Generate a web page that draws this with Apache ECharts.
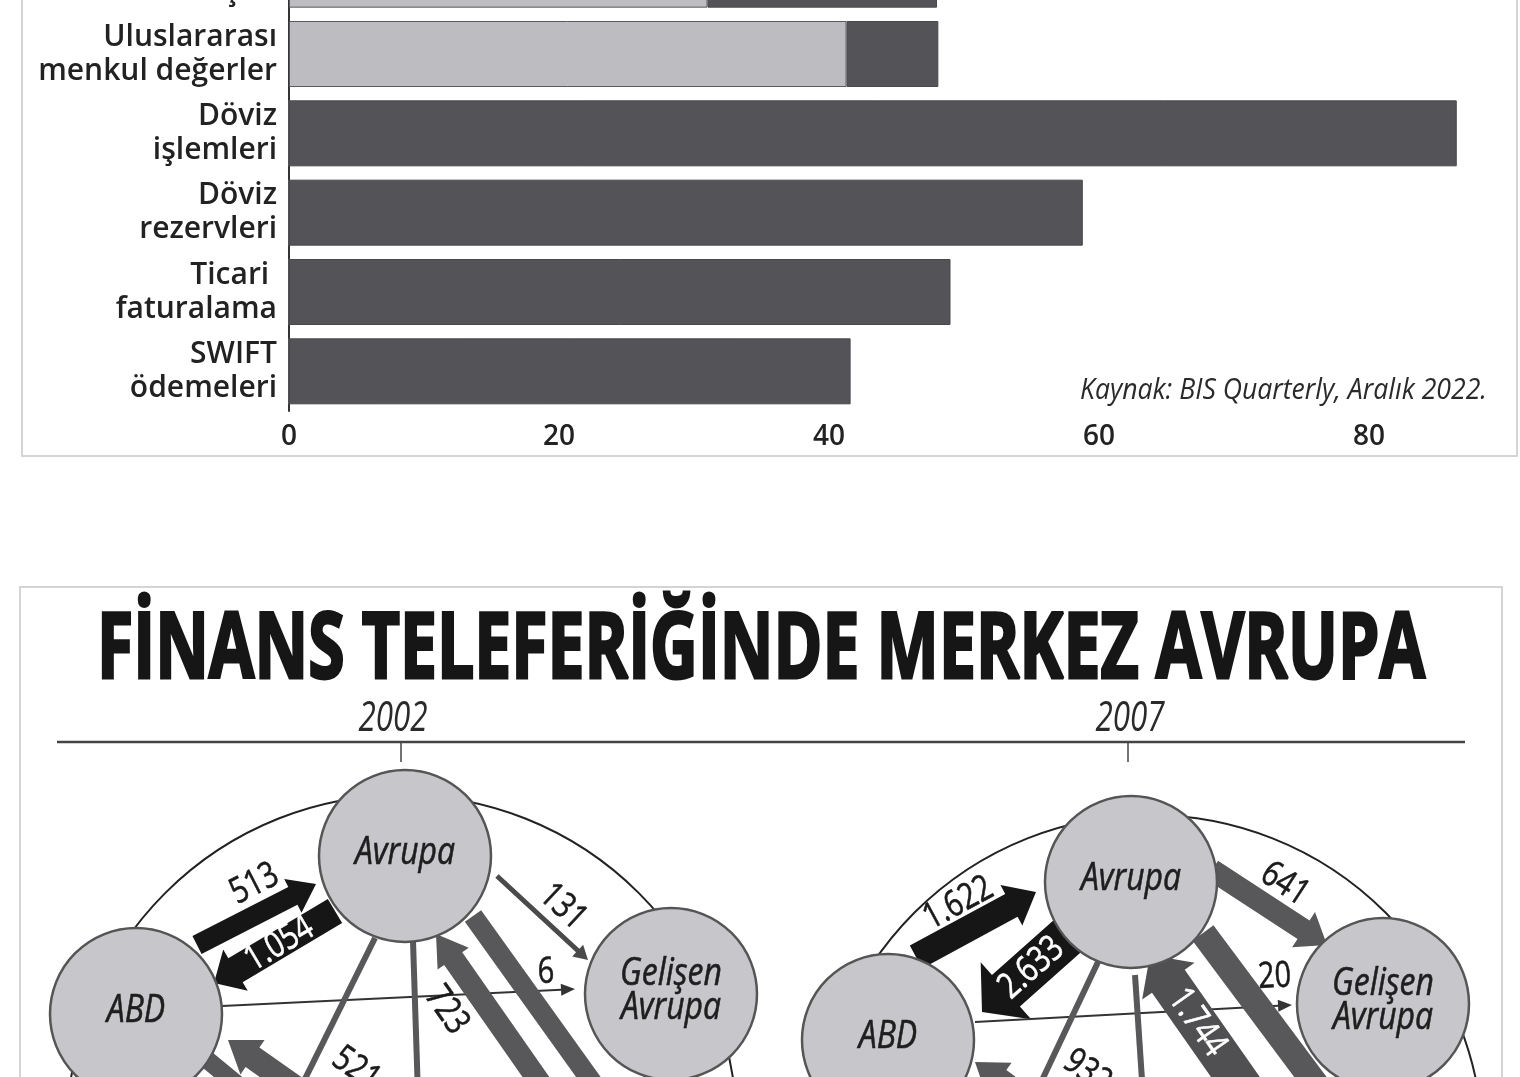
<!DOCTYPE html>
<html>
<head>
<meta charset="utf-8">
<script src="https://cdn.jsdelivr.net/npm/echarts@6/dist/echarts.min.js"></script>
<style>
  html, body { margin: 0; padding: 0; background: #fff; overflow: hidden; }
  #page { position: relative; width: 1520px; height: 1077px; overflow: hidden; }
  #bars { position: absolute; left: 0; top: -65px; width: 1520px; height: 522px; }
  #net { position: absolute; left: 0; top: 0; width: 1520px; height: 1077px; }
</style>
</head>
<body>
<div id="page"><div id="bars"></div><div id="net"></div></div>
<script>
// --- bar chart data (share of USD, %) ---
const categories = ['Uluslararası\nödünçler', 'Uluslararası\nmenkul değerler', 'Döviz\nişlemleri', 'Döviz\nrezervleri', 'Ticari \nfaturalama', 'SWIFT\nödemeleri'];
const lightValues = [31.0, 41.3, 0, 0, 0, 0];
const darkValues = [17.0, 6.8, 86.5, 58.8, 49.0, 41.6];
const sourceText = 'Kaynak: BIS Quarterly, Aralık 2022.';

// --- network data (flows) ---
const title = 'FİNANS TELEFERİĞİNDE MERKEZ AVRUPA';
const years = ['2002', '2007'];
const nodeNames = ['Avrupa', 'ABD', 'Gelişen\nAvrupa'];
const flows2002 = [513, 1054, 131, 6, 723, 521];
const flows2007 = [1622, 2633, 641, 20, 1744, 932];

// --- layout of the diagrams (diagram units) ---
const nodePos2002 = [[405, 856], [136, 1014], [671, 994]];
const nodePos2007 = [[1131, 882], [888, 1040], [1383, 1004]];
const ringPos = [[402, 1130, 335], [1150, 1148, 333]];
const NodeR = 86;

// tail x, tail y, tip x, tip y
const arrowPath2002 = [[197, 945, 316, 884], [335, 911, 214, 983], [497, 876, 588, 960], [222, 1006, 575, 989], [545, 1090, 436, 934], [370, 1140, 228, 1040]];
const arrowPath2007 = [[916, 957, 1036, 892], [1072, 932, 982, 1012], [1212, 870, 1327, 945], [975, 1022, 1292, 1005], [1255, 1105, 1150, 955], [1075, 1135, 975, 1062]];
const linkPath2002 = [[375, 938, 297, 1095, 6], [413, 941, 418, 1095, 6], [473, 916, 612, 1110, 20], [205, 1058, 250, 1095, 18]];
const linkPath2007 = [[1098, 962, 1035, 1095, 6], [1135, 975, 1143, 1095, 6], [1203, 933, 1335, 1110, 26]];

const Black = '#161616';
const Grey = '#58585a';
// body width, head width, head length, colour, label colour, label position t, label offset
const arrowStyle2002 = [
  { w: 20, hw: 38, hl: 26, color: Black, lc: '#1a1a1a', t: 0.59, off: -28 },
  { w: 28, hw: 48, hl: 25, color: Black, lc: '#ffffff', t: 0.46, off: 0 },
  { w: 5, hw: 16, hl: 14, color: '#4a4a4a', lc: '#1a1a1a', t: 0.56, off: -22 },
  { w: 2, hw: 12, hl: 14, color: '#333', lc: '#1a1a1a', t: 0.92, off: -18 },
  { w: 22, hw: 38, hl: 30, color: Grey, lc: '#1a1a1a', t: 0.64, off: -35 },
  { w: 24, hw: 42, hl: 30, color: Grey, lc: '#1a1a1a', t: 0.3, off: 50 }
];
const arrowStyle2007 = [
  { w: 26, hw: 46, hl: 28, color: Black, lc: '#1a1a1a', t: 0.46, off: -27 },
  { w: 42, hw: 76, hl: 32, color: Black, lc: '#ffffff', t: 0.45, off: 0 },
  { w: 22, hw: 42, hl: 28, color: Grey, lc: '#1a1a1a', t: 0.5, off: -28 },
  { w: 2, hw: 12, hl: 14, color: '#333', lc: '#1a1a1a', t: 0.95, off: -29 },
  { w: 40, hw: 64, hl: 32, color: '#505052', lc: '#ffffff', t: 0.55, off: 0 },
  { w: 24, hw: 42, hl: 30, color: Grey, lc: '#1a1a1a', t: 0.22, off: 58 }
];

const FontFamily = "'Open Sans', 'DejaVu Sans', sans-serif";
const Narrow = 0.8;

const measureCtx = document.createElement('canvas').getContext('2d');
function textWidth(text, size, weight, style) {
  measureCtx.font = (style || 'normal') + ' ' + (weight || 'normal') + ' ' + size + 'px ' + FontFamily;
  return Math.max.apply(null, text.split('\n').map(function (s) { return measureCtx.measureText(s).width; }));
}

function fmt(n) {
  return String(n).replace(/\B(?=(\d{3})+(?!\d))/g, '.');
}

// collect arrows of both years
var arrows = [];
[[arrowPath2002, arrowStyle2002, flows2002], [arrowPath2007, arrowStyle2007, flows2007]].forEach(function (set) {
  for (let i = 0; i < set[0].length; i++) {
    arrows.push({ path: set[0][i], style: set[1][i], label: fmt(set[2][i]) });
  }
});
[linkPath2002, linkPath2007].forEach(function (list) {
  list.forEach(function (l) {
    arrows.push({ path: l.slice(0, 4), style: { w: l[4], hl: 0, color: Grey }, label: null });
  });
});

var nodes = [];
[nodePos2002, nodePos2007].forEach(function (list) {
  for (let i = 0; i < list.length; i++) {
    nodes.push({ pos: list[i], name: nodeNames[i] });
  }
});

function renderArrow(params, api) {
  var a = arrows[params.dataIndex];
  var st = a.style;
  var p1 = api.coord([api.value(0), api.value(1)]);
  var p2 = api.coord([api.value(2), api.value(3)]);
  var dx = p2[0] - p1[0], dy = p2[1] - p1[1];
  var len = Math.sqrt(dx * dx + dy * dy);
  var ux = dx / len, uy = dy / len, nx = -uy, ny = ux;
  var w = st.w / 2;
  var pts;
  if (st.hl) {
    var h = st.hw / 2;
    var bx = p2[0] - ux * st.hl, by = p2[1] - uy * st.hl;
    pts = [[p1[0] + nx * w, p1[1] + ny * w], [bx + nx * w, by + ny * w], [bx + nx * h, by + ny * h], p2,
      [bx - nx * h, by - ny * h], [bx - nx * w, by - ny * w], [p1[0] - nx * w, p1[1] - ny * w]];
  } else {
    pts = [[p1[0] + nx * w, p1[1] + ny * w], [p2[0] + nx * w, p2[1] + ny * w], [p2[0] - nx * w, p2[1] - ny * w], [p1[0] - nx * w, p1[1] - ny * w]];
  }
  var children = [{ type: 'polygon', shape: { points: pts }, style: { fill: st.color } }];
  if (a.label) {
    var ang = Math.atan2(uy, ux);
    if (ang > Math.PI / 2) ang -= Math.PI;
    if (ang <= -Math.PI / 2) ang += Math.PI;
    children.push({
      type: 'text',
      x: p1[0] + dx * st.t + nx * st.off,
      y: p1[1] + dy * st.t + ny * st.off,
      rotation: -ang,
      scaleX: Narrow,
      style: {
        text: a.label, fill: st.lc, fontSize: 36, fontFamily: FontFamily,
        align: 'center', verticalAlign: 'middle', stroke: st.lc, lineWidth: 0.6
      }
    });
  }
  return { type: 'group', children: children };
}

function renderNode(params, api) {
  var n = nodes[params.dataIndex];
  var c = api.coord([api.value(0), api.value(1)]);
  var r = api.size([NodeR, NodeR])[0];
  return {
    type: 'group',
    children: [
      { type: 'circle', shape: { cx: c[0], cy: c[1], r: r }, style: { fill: '#c7c7cb', stroke: '#555', lineWidth: 2.5 } },
      {
        type: 'text', x: c[0], y: c[1] - 3, scaleX: 0.84,
        style: { text: n.name, fill: '#1e1e1e', fontSize: 38, lineHeight: 34, fontStyle: 'italic', fontFamily: FontFamily, align: 'center', verticalAlign: 'middle', stroke: '#1e1e1e', lineWidth: 0.6 }
      }
    ]
  };
}

function renderRing(params, api) {
  var c = api.coord([api.value(0), api.value(1)]);
  var r = api.size([api.value(2), api.value(2)])[0];
  return { type: 'circle', shape: { cx: c[0], cy: c[1], r: r }, style: { fill: null, stroke: '#222', lineWidth: 2 } };
}

var titleScale = 1328 / textWidth(title, 92, 'bold');
var yearScale = 69 / textWidth('2002', 42, 'normal', 'italic');
var sourceScale = 407 / textWidth(sourceText, 30, 'normal', 'italic');

// ---------- top panel: bar chart ----------
var bars = echarts.init(document.getElementById('bars'));
bars.setOption({
  animation: false,
  backgroundColor: 'transparent',
  grid: { left: 289, top: 0, width: 1215, height: 476 },
  xAxis: {
    type: 'value', min: 0, max: 90, interval: 20,
    axisLine: { show: false }, axisTick: { show: false }, splitLine: { show: false },
    axisLabel: { showMaxLabel: false, fontSize: 28, fontWeight: 600, color: '#222', fontFamily: FontFamily, margin: 12 }
  },
  yAxis: {
    type: 'category', inverse: true, data: categories,
    axisLine: { show: true, lineStyle: { color: '#333', width: 2 } },
    axisTick: { show: false },
    axisLabel: { fontSize: 30, lineHeight: 34, fontWeight: 600, color: '#222', fontFamily: FontFamily, margin: 12 }
  },
  graphic: [
    { type: 'rect', shape: { x: 22, y: 55, width: 1495, height: 466 }, style: { fill: 'none', stroke: '#d4d4d4', lineWidth: 2 }, z: 0 },
    {
      type: 'text', x: 1487, y: 455, scaleX: sourceScale,
      style: { text: sourceText, fill: '#2a2a2a', fontSize: 30, fontStyle: 'italic', fontFamily: FontFamily, align: 'right', verticalAlign: 'middle' }
    }
  ],
  series: [
    {
      type: 'bar', stack: 'usd', barWidth: 66, data: lightValues,
      itemStyle: { color: '#bdbcc0', borderColor: '#5a5a5e', borderWidth: 1 }
    },
    {
      type: 'bar', stack: 'usd', barWidth: 66, data: darkValues,
      itemStyle: { color: '#545458', borderColor: '#48484c', borderWidth: 1 }
    }
  ]
});

// ---------- bottom panel: network ----------
var net = echarts.init(document.getElementById('net'));
net.setOption({
  animation: false,
  backgroundColor: 'transparent',
  grid: { left: 0, top: 0, width: 1520, height: 1077 },
  xAxis: { type: 'value', min: 0, max: 1520, show: false },
  yAxis: { type: 'value', min: 0, max: 1077, inverse: true, show: false },
  graphic: [
    { type: 'rect', shape: { x: 20, y: 587, width: 1482, height: 520 }, style: { fill: 'none', stroke: '#d4d4d4', lineWidth: 2 }, z: 0 },
    {
      type: 'text', x: 761, y: 652, scaleX: titleScale,
      style: { text: title, fill: '#161616', fontSize: 92, fontWeight: 'bold', fontFamily: FontFamily, align: 'center', verticalAlign: 'middle', stroke: '#161616', lineWidth: 3 }
    },
    { type: 'line', shape: { x1: 57, y1: 742, x2: 1465, y2: 742 }, style: { stroke: '#444', lineWidth: 2.5 } },
    { type: 'line', shape: { x1: 401, y1: 742, x2: 401, y2: 762 }, style: { stroke: '#444', lineWidth: 1.5 } },
    { type: 'line', shape: { x1: 1128, y1: 742, x2: 1128, y2: 762 }, style: { stroke: '#444', lineWidth: 1.5 } },
    {
      type: 'text', x: 393, y: 719, scaleX: yearScale,
      style: { text: years[0], fill: '#2a2a2a', fontSize: 42, fontStyle: 'italic', fontFamily: FontFamily, align: 'center', verticalAlign: 'middle' }
    },
    {
      type: 'text', x: 1130, y: 719, scaleX: yearScale,
      style: { text: years[1], fill: '#2a2a2a', fontSize: 42, fontStyle: 'italic', fontFamily: FontFamily, align: 'center', verticalAlign: 'middle' }
    }
  ],
  series: [
    {
      type: 'custom', z: 2, silent: true,
      renderItem: renderRing, data: ringPos
    },
    {
      type: 'custom', z: 3, silent: true,
      renderItem: renderArrow, data: arrows.map(function (a) { return a.path; })
    },
    {
      type: 'custom', z: 4, silent: true,
      renderItem: renderNode, data: nodes.map(function (n) { return n.pos; })
    }
  ]
});
</script>
</body>
</html>
